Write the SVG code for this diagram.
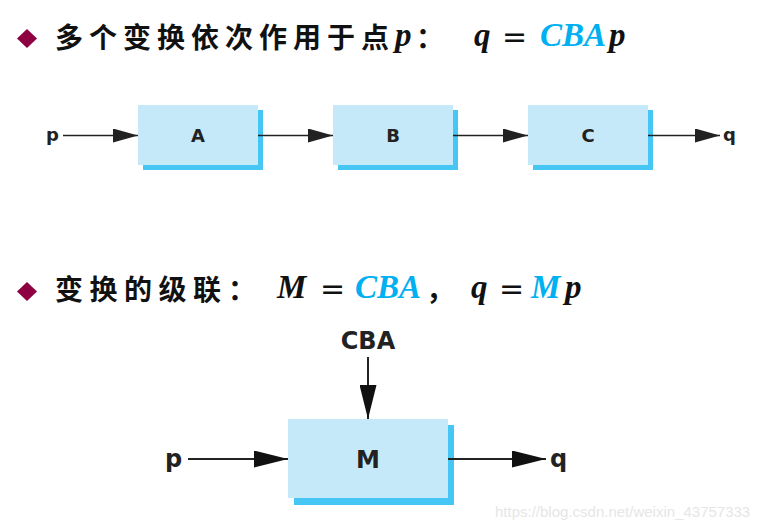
<svg xmlns="http://www.w3.org/2000/svg" width="776" height="530" viewBox="0 0 776 530">
<defs>
<style>
.cjk{font-family:"Noto Sans CJK SC","Noto Sans CJK JP",sans-serif;font-size:28px;font-weight:bold;fill:#111}
.math{font-family:"Liberation Serif","DejaVu Serif",serif;font-weight:bold;font-style:italic;font-size:33px;fill:#111}
.eq{font-family:"DejaVu Sans","Liberation Sans",sans-serif;font-size:30px;fill:#111}
.blue{fill:#00B0F0}
.lbl{font-family:"DejaVu Sans","Liberation Sans",sans-serif;font-weight:bold;fill:#222}
.box{fill:#C6E9F9}
.shd{fill:#45C6F5}
.conn line{stroke:#222;stroke-width:1.6}
.wm{font-family:"Liberation Sans",Arial,sans-serif;font-size:15px;fill:#e6e6e6}
</style>
<marker id="ah" markerWidth="25" markerHeight="14" refX="25" refY="7" orient="auto" markerUnits="userSpaceOnUse">
<path d="M0,0 L25,7 L0,14 Z" fill="#222"/>
</marker>
<marker id="ah2" markerWidth="34" markerHeight="17" refX="34" refY="8.5" orient="auto" markerUnits="userSpaceOnUse">
<path d="M0,0 L34,8.5 L0,17 Z" fill="#111"/>
</marker>
</defs>
<rect width="776" height="530" fill="#fff"/>

<g id="heading1">
<path d="M27,29 L37,38.5 L27,48 L17,38.5 Z" fill="#8E0042"/>
<text class="cjk" x="55 89 123 157 191 225 259 293 327 361" y="48">多个变换依次作用于点</text>
<text class="math" x="395" y="46">p</text>
<text class="cjk" x="416" y="48">：</text>
<text class="math" x="474" y="46">q</text>
<text class="eq" x="502" y="47">=</text>
<text class="math blue" x="540" y="46">CBA</text>
<text class="math" x="609" y="46">p</text>
</g>

<g id="nodeA">
<rect class="shd" x="143" y="110" width="120" height="60"/>
<rect class="box" x="138" y="105" width="120" height="60"/>
<text class="lbl" x="198" y="142" font-size="18" text-anchor="middle">A</text>
</g>
<g id="nodeB">
<rect class="shd" x="338" y="110" width="120" height="60"/>
<rect class="box" x="333" y="105" width="120" height="60"/>
<text class="lbl" x="393" y="142" font-size="18" text-anchor="middle">B</text>
</g>
<g id="nodeC">
<rect class="shd" x="533" y="110" width="120" height="60"/>
<rect class="box" x="528" y="105" width="120" height="60"/>
<text class="lbl" x="588" y="142" font-size="18" text-anchor="middle">C</text>
</g>
<g id="labels1">
<text class="lbl" x="46" y="141" font-size="18">p</text>
<text class="lbl" x="723" y="141" font-size="18">q</text>
</g>

<g id="heading2">
<path d="M27,282 L37,291.5 L27,301 L17,291.5 Z" fill="#8E0042"/>
<text class="cjk" x="55 89.5 124 158.5 193 228" y="300">变换的级联：</text>
<text class="math" x="277" y="298">M</text>
<text class="eq" x="320" y="299">=</text>
<text class="math blue" x="355" y="298">CBA</text>
<text class="cjk" x="426" y="300">，</text>
<text class="math" x="471" y="298">q</text>
<text class="eq" x="499" y="299">=</text>
<text class="math blue" x="531" y="298">M</text>
<text class="math" x="565" y="298">p</text>
</g>

<g id="nodeM">
<rect class="shd" x="294" y="425" width="160" height="80"/>
<rect class="box" x="288" y="419" width="160" height="79"/>
<text class="lbl" x="368" y="468" font-size="24" text-anchor="middle">M</text>
</g>
<g id="labels2">
<text class="lbl" x="368" y="349" font-size="24" text-anchor="middle">CBA</text>
<text class="lbl" x="165" y="467" font-size="24">p</text>
<text class="lbl" x="550" y="467" font-size="24">q</text>
</g>

<g id="connectors" class="conn">
<line x1="63" y1="135.5" x2="138" y2="135.5" marker-end="url(#ah)"/>
<line x1="258" y1="135.5" x2="333" y2="135.5" marker-end="url(#ah)"/>
<line x1="453" y1="135.5" x2="528" y2="135.5" marker-end="url(#ah)"/>
<line x1="648" y1="135.5" x2="720" y2="135.5" marker-end="url(#ah)"/>
<line x1="368" y1="357" x2="368" y2="419" marker-end="url(#ah2)" style="stroke-width:2"/>
<line x1="188" y1="459" x2="288" y2="459" marker-end="url(#ah2)" style="stroke-width:2"/>
<line x1="448" y1="459" x2="546" y2="459" marker-end="url(#ah2)" style="stroke-width:2"/>
</g>

<text class="wm" x="495" y="517">https://blog.csdn.net/weixin_43757333</text>
</svg>
